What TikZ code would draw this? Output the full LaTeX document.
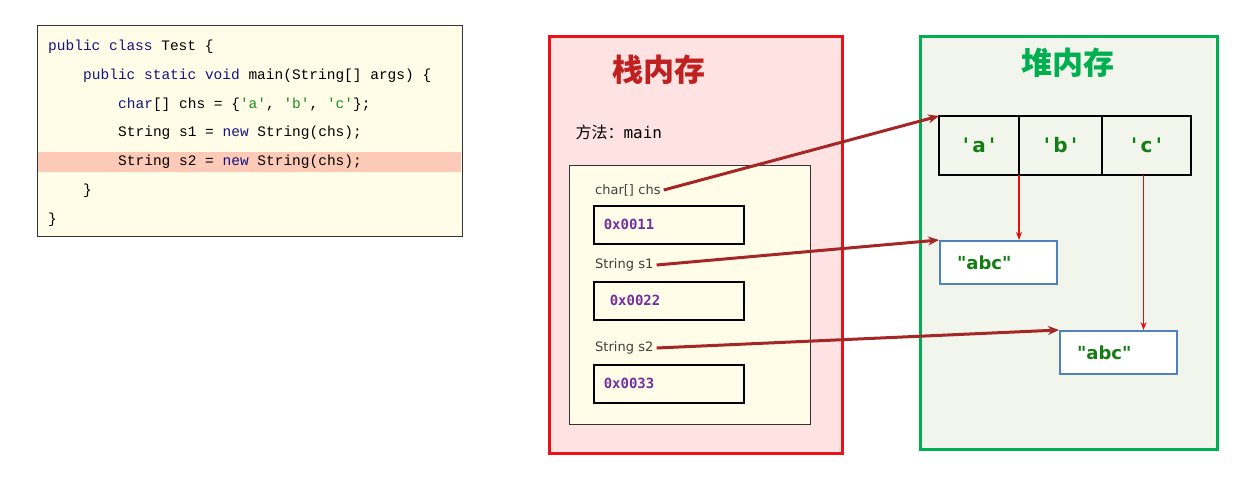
\documentclass[tikz,border=0pt]{standalone}
\usepackage{fontspec}
\usepackage{xcolor}
\usetikzlibrary{arrows.meta, positioning, backgrounds}

\newfontfamily\codefont{Liberation Mono}
\newfontfamily\hexfont{DejaVu Sans Mono}
\newfontfamily\labelfont{DejaVu Sans}
\newfontfamily\cjk{Noto Sans CJK SC}

\definecolor{noteyellow}{RGB}{255,253,231}
\definecolor{hiline}{RGB}{252,202,182}
\definecolor{kwblue}{RGB}{20,20,128}
\definecolor{chargreen}{RGB}{30,140,30}
\definecolor{stackbg}{RGB}{255,226,226}
\definecolor{stackred}{RGB}{232,18,24}
\definecolor{stacktitle}{RGB}{192,32,32}
\definecolor{heapbg}{RGB}{242,245,236}
\definecolor{heapgreen}{RGB}{0,176,80}
\definecolor{valgreen}{RGB}{20,125,20}
\definecolor{addrpurple}{RGB}{112,48,160}
\definecolor{strblue}{RGB}{79,129,189}
\definecolor{refred}{RGB}{165,38,38}
\definecolor{linkred}{RGB}{228,16,16}

\newcommand{\kw}[1]{\textcolor{kwblue}{#1}}
\newcommand{\chr}[1]{\textcolor{chargreen}{\textquotesingle#1\textquotesingle}}

\begin{document}
\begin{tikzpicture}[
    x=1pt, y=-1pt,
    frame/.style={draw=#1, line width=3pt},
    codeline/.style={anchor=west, inner sep=0pt, font=\codefont\fontsize{14.5}{17}\selectfont},
    varlabel/.style={anchor=west, inner sep=3pt, font=\labelfont\fontsize{13}{15}\selectfont, text=black!75},
    addrbox/.style={draw=black, line width=1.5pt, fill=noteyellow, minimum height=38pt, text width=130pt, inner xsep=10pt, align=left, anchor=north west, font=\hexfont\bfseries\fontsize{14}{16}\selectfont, text=addrpurple},
    cell/.style={draw=black, line width=1.5pt, minimum height=59pt, minimum width=#1, inner sep=0pt, outer sep=0pt, font=\labelfont\bfseries\fontsize{20}{22}\selectfont, text=valgreen},
    strbox/.style={draw=strblue, line width=2pt, fill=white, minimum height=43pt, text width=83pt, inner xsep=17pt, align=left, anchor=north west, font=\labelfont\bfseries\fontsize{18}{20}\selectfont, text=valgreen},
    title/.style={font=\cjk\bfseries\fontsize{31}{34}\selectfont, text=#1},
    ref/.style={-{Stealth[length=11pt, width=9pt]}, line width=3pt, draw=refred},
    link/.style={-{Stealth[length=8pt, width=6pt]}, line width=1.4pt, draw=linkred},
]

\path[use as bounding box, fill=white] (0,0) rectangle (1238,485);

% ── Source code ──
\node[draw=black!80, line width=1pt, fill=noteyellow, minimum width=425pt, minimum height=211pt, anchor=north west] (code) at (37,25) {};
\fill[hiline] (38,152) rectangle (461,172);
\node[codeline] (l1) at (48,47) {\kw{public class} Test \{};
\node[codeline] (l2) at (83,76) {\kw{public static void} main(String[] args) \{};
\node[codeline] (l3) at (118,105) {\kw{char}[] chs = \{\chr{a}, \chr{b}, \chr{c}\};};
\node[codeline] (l4) at (118,133) {String s1 = \kw{new} String(chs);};
\node[codeline] (l5) at (118,162) {String s2 = \kw{new} String(chs);};
\node[codeline] (l6) at (83,191) {\}};
\node[codeline] (l7) at (48,220) {\}};

% ── Stack memory ──
\draw[frame=stackred, fill=stackbg] (549,36) rectangle (842,453);
\node[title=stacktitle] (stacktitle) at (659,70) {栈内存};
\node[anchor=west, font=\fontsize{16}{18}\selectfont] (method) at (572,132) {\cjk 方法：\hexfont main};
\draw[draw=black!80, line width=1pt, fill=noteyellow] (569,165) rectangle (810,424);

\node[varlabel] (chsvar) at (592,190) {char[]\,\,chs};
\node[addrbox] (chsaddr) at (593,205) {0x0011};
\node[varlabel] (s1var) at (592,265) {String\,\,s1};
\node[addrbox] (s1addr) at (593,281) {\hspace*{6pt}0x0022};
\node[varlabel] (s2var) at (592,348) {String\,\,s2};
\node[addrbox] (s2addr) at (593,364) {0x0033};

% ── Heap memory ──
\draw[frame=heapgreen, fill=heapbg] (920,36) rectangle (1217,449);
\node[title=heapgreen] (heaptitle) at (1068,63) {堆内存};

\node[cell=80pt, anchor=north west] (cella) at (939,116) {\textquotesingle\,a\,\textquotesingle};
\node[cell=83pt, right=0pt of cella] (cellb) {\textquotesingle\,b\,\textquotesingle};
\node[cell=89pt, right=0pt of cellb] (cellc) {\textquotesingle\,c\,\textquotesingle};

\node[strbox] (abc1) at (939,240) {"abc"};
\node[strbox] (abc2) at (1059,330) {"abc"};

% ── References stack -> heap ──
\draw[ref] (chsvar.east) -- (cella.north west);
\draw[ref] (s1var.east) -- (abc1.north west);
\draw[ref] (s2var.east) -- (abc2.north west);

% ── Char array copied into strings ──
\draw[link] (cella.south east) -- (cella.south east |- abc1.north);
\draw[link] ([xshift=-3pt]cellc.south) -- ([xshift=-3pt]cellc.south |- abc2.north);

\end{tikzpicture}
\end{document}
